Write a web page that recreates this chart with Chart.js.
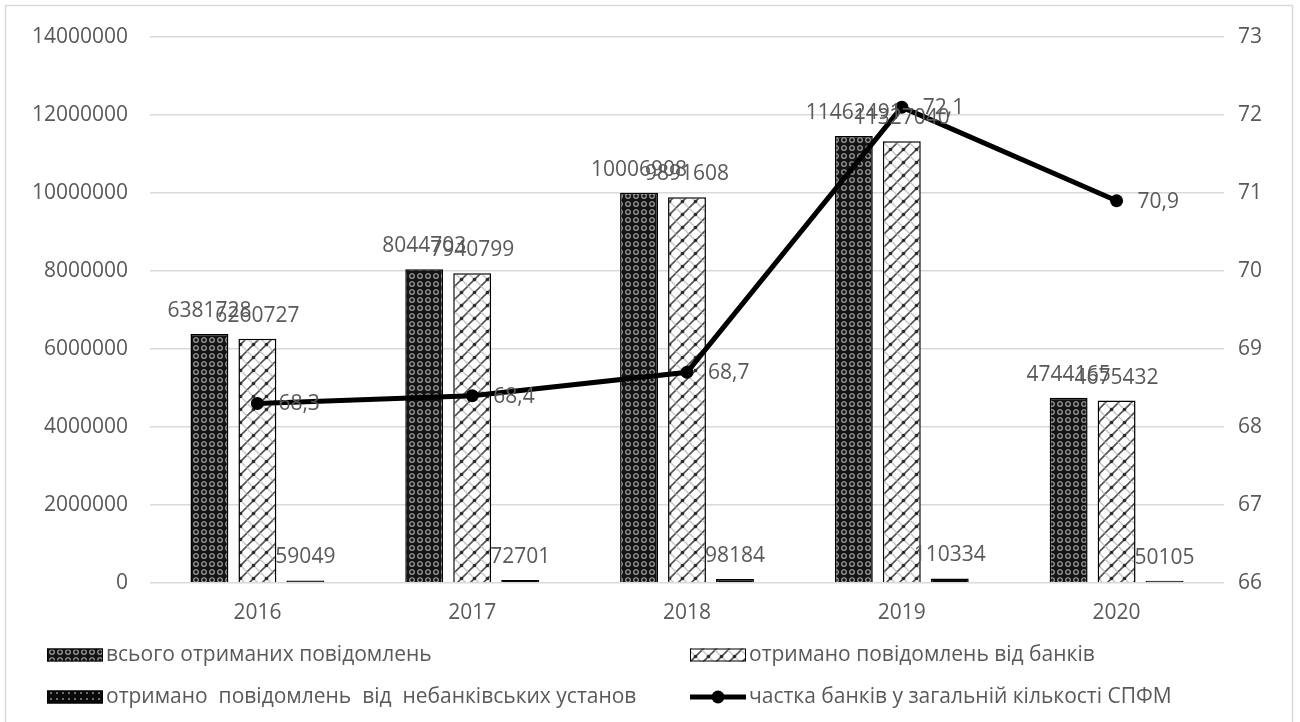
<!DOCTYPE html>
<html lang="uk">
<head>
<meta charset="utf-8">
<title>Повідомлення, отримані СПФМ, 2016–2020</title>
<script src="https://cdn.jsdelivr.net/npm/chart.js@4/dist/chart.umd.min.js"></script>
<style>
  html, body { margin: 0; padding: 0; background: #ffffff; }
  #wrap { position: relative; width: 1300px; height: 722px; overflow: hidden; }
  canvas { display: block; }
</style>
</head>
<body>
<div id="wrap"><canvas id="chart" width="1300" height="722"></canvas></div>
<script>
// Years on the category axis
const years = ['2016', '2017', '2018', '2019', '2020'];

// Number of reports received (left axis)
const totalReports   = [6381728, 8044703, 10006908, 11462491, 4744165];
const bankReports    = [6260727, 7940799, 9891608, 11327040, 4675432];
const nonBankReports = [59049, 72701, 98184, 110334, 50105];

// Share of banks among reporting entities, % (right axis)
const bankShare = [68.3, 68.4, 68.7, 72.1, 70.9];

// Axis ranges
const countAxisMin = 0, countAxisMax = 14000000, countAxisStep = 2000000;
const shareAxisMin = 66, shareAxisMax = 73, shareAxisStep = 1;

// Series names
const seriesNames = [
  'всього отриманих повідомлень',
  'отримано повідомлень від банків',
  'отримано  повідомлень  від  небанківських установ',
  'частка банків у загальній кількості СПФМ'
];

const FONT = '"Open Sans", "Noto Sans", sans-serif';
const TEXT = '#595959';

// ---- fill patterns for the bars ----
function makeTile(w, h, paint) {
  const c = document.createElement('canvas');
  c.width = w; c.height = h;
  const g = c.getContext('2d');
  paint(g, w, h);
  return c;
}

// dark fill with rows of light beads
function beadPattern(ctx) {
  const tile = makeTile(8, 8, (g, w, h) => {
    g.fillStyle = '#141414';
    g.fillRect(0, 0, w, h);
    g.strokeStyle = '#a8a8a8';
    g.lineWidth = 1.1;
    g.beginPath();
    g.arc(4, 4, 2.3, 0, Math.PI * 2);
    g.stroke();
  });
  return ctx.createPattern(tile, 'repeat');
}

// light fill with a diagonal lattice: strong "/" strokes, faint "\" strokes
function trellisPattern(ctx) {
  const tile = makeTile(13, 13, (g, w, h) => {
    g.fillStyle = '#ffffff';
    g.fillRect(0, 0, w, h);
    g.lineCap = 'butt';
    for (const s of [-w, 0, w]) {
      g.strokeStyle = '#c4c4c4';
      g.lineWidth = 1.3;
      g.beginPath();
      g.moveTo(s, 0); g.lineTo(s + w, h);
      g.stroke();
      g.strokeStyle = '#505050';
      g.lineWidth = 1.6;
      g.beginPath();
      g.moveTo(s, h); g.lineTo(s + w, 0);
      g.stroke();
    }
    g.fillStyle = '#2a2a2a';
    g.beginPath();
    g.arc(w / 2, h / 2, 1.8, 0, Math.PI * 2);
    g.fill();
  });
  return ctx.createPattern(tile, 'repeat');
}

// near-black fill with small grey specks
function speckPattern(ctx) {
  const tile = makeTile(6, 6, (g, w, h) => {
    g.fillStyle = '#0a0a0a';
    g.fillRect(0, 0, w, h);
    g.fillStyle = '#6e6e6e';
    g.fillRect(2, 2, 2, 2);
  });
  return ctx.createPattern(tile, 'repeat');
}

// ---- plugins ----
// light frame around the whole chart
const frame = {
  id: 'frame',
  beforeDraw(chart) {
    const c = chart.ctx;
    c.save();
    c.fillStyle = '#ffffff';
    c.fillRect(0, 0, chart.width, chart.height);
    c.strokeStyle = '#d9d9d9';
    c.lineWidth = 1.5;
    c.beginPath();
    c.moveTo(5.5, chart.height + 5);
    c.lineTo(5.5, 5.5);
    c.lineTo(1292.5, 5.5);
    c.lineTo(1292.5, chart.height + 5);
    c.stroke();
    c.restore();
  }
};

// value labels above bars and beside line points
const valueLabels = {
  id: 'valueLabels',
  afterDatasetsDraw(chart) {
    const c = chart.ctx;
    c.save();
    c.font = '21px ' + FONT;
    c.fillStyle = TEXT;
    c.textBaseline = 'middle';
    chart.data.datasets.forEach((ds, i) => {
      const meta = chart.getDatasetMeta(i);
      meta.data.forEach((el, j) => {
        const v = ds.data[j];
        if (ds.type === 'line') {
          c.textAlign = 'left';
          c.fillText(String(v).replace('.', ','), el.x + 21, el.y + 1);
        } else {
          c.textAlign = 'center';
          c.fillText(String(v), el.x, el.y - 23);
        }
      });
    });
    c.restore();
  }
};

// two-column legend under the plot
const gridLegend = {
  id: 'gridLegend',
  afterDraw(chart) {
    const c = chart.ctx;
    const slots = [
      { x: 47,  y: 655 },
      { x: 690, y: 655 },
      { x: 47,  y: 697 },
      { x: 690, y: 697 }
    ];
    c.save();
    chart.data.datasets.forEach((ds, i) => {
      const s = slots[i];
      const bw = 56, bh = 13;
      if (ds.type === 'line') {
        c.strokeStyle = ds.borderColor;
        c.lineWidth = ds.borderWidth;
        c.beginPath();
        c.moveTo(s.x, s.y);
        c.lineTo(s.x + bw, s.y);
        c.stroke();
        c.fillStyle = ds.pointBackgroundColor;
        c.beginPath();
        c.arc(s.x + bw / 2, s.y, ds.pointRadius, 0, Math.PI * 2);
        c.fill();
      } else {
        c.fillStyle = ds.backgroundColor;
        c.fillRect(s.x, s.y - bh / 2, bw, bh);
        c.strokeStyle = '#000000';
        c.lineWidth = 1;
        c.strokeRect(s.x + 0.5, s.y - bh / 2 + 0.5, bw - 1, bh - 1);
      }
      c.font = '21px ' + FONT;
      c.fillStyle = TEXT;
      c.textAlign = 'left';
      c.textBaseline = 'middle';
      c.fillText(ds.label, s.x + bw + 3, s.y);
    });
    c.restore();
  }
};

function draw() {
  const canvas = document.getElementById('chart');
  const ctx = canvas.getContext('2d');

  Chart.defaults.font.family = FONT;
  Chart.defaults.font.size = 21;
  Chart.defaults.color = TEXT;

  const barCommon = {
    type: 'bar',
    yAxisID: 'y',
    borderColor: '#000000',
    borderWidth: 1.5,
    categoryPercentage: 0.67,
    barPercentage: 0.79,
    order: 1
  };

  new Chart(ctx, {
    data: {
      labels: years,
      datasets: [
        Object.assign({}, barCommon, { label: seriesNames[0], data: totalReports,   backgroundColor: beadPattern(ctx) }),
        Object.assign({}, barCommon, { label: seriesNames[1], data: bankReports,    backgroundColor: trellisPattern(ctx) }),
        Object.assign({}, barCommon, { label: seriesNames[2], data: nonBankReports, backgroundColor: speckPattern(ctx) }),
        {
          type: 'line',
          label: seriesNames[3],
          data: bankShare,
          yAxisID: 'y1',
          borderColor: '#000000',
          borderWidth: 5,
          pointRadius: 6.5,
          pointBackgroundColor: '#000000',
          pointBorderColor: '#000000',
          pointBorderWidth: 0,
          tension: 0,
          fill: false,
          order: 0
        }
      ]
    },
    options: {
      responsive: false,
      animation: false,
      events: [],
      layout: { padding: { top: 37, left: 0, right: 0, bottom: 78 } },
      plugins: {
        legend: { display: false },
        tooltip: { enabled: false },
        title: { display: false }
      },
      scales: {
        x: {
          type: 'category',
          grid: { display: false, drawTicks: false },
          border: { display: false },
          ticks: { padding: 18, color: TEXT, font: { size: 21 } }
        },
        y: {
          position: 'left',
          min: countAxisMin,
          max: countAxisMax,
          grid: { color: '#d9d9d9', lineWidth: 1.5, drawTicks: false },
          border: { display: false },
          ticks: {
            stepSize: countAxisStep,
            padding: 22,
            color: TEXT,
            font: { size: 21 },
            callback: v => String(v)
          },
          afterFit(scale) { scale.width = 150; }
        },
        y1: {
          position: 'right',
          min: shareAxisMin,
          max: shareAxisMax,
          grid: { display: false, drawTicks: false },
          border: { display: false },
          ticks: {
            stepSize: shareAxisStep,
            padding: 14,
            color: TEXT,
            font: { size: 21 },
            callback: v => String(v)
          },
          afterFit(scale) { scale.width = 76; }
        }
      }
    },
    plugins: [frame, valueLabels, gridLegend]
  });
}

if (document.fonts && document.fonts.load) {
  document.fonts.load('21px "Open Sans"').then(draw, draw);
} else {
  draw();
}
</script>
</body>
</html>
